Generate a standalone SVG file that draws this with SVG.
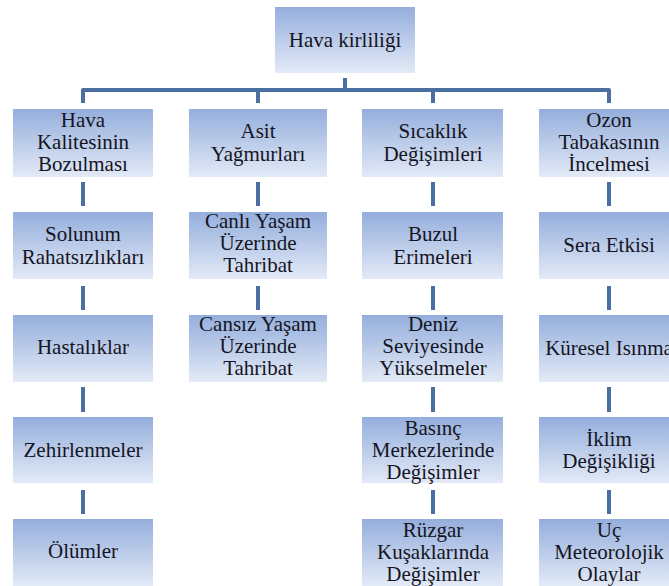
<svg xmlns="http://www.w3.org/2000/svg" width="669" height="586" viewBox="0 0 669 586">
<defs>
<linearGradient id="g" x1="0" y1="0" x2="0" y2="1">
<stop offset="0" stop-color="#94aedc"/>
<stop offset="1" stop-color="#e3eaf7"/>
</linearGradient>
<style>
.box{fill:url(#g)}
text{font-family:"Liberation Serif","DejaVu Serif",serif;font-size:21px;fill:#15151f;text-anchor:middle}
.c{fill:none;stroke:#4a6fa0;stroke-width:4;stroke-linejoin:round}
</style>
</defs>
<rect width="669" height="586" fill="#ffffff"/>
<g id="connectors">
<path class="c" d="M345 78V90M83 103V90H609V103M258 90V103M433 90V103"/>
<path class="c" d="M83 182V206M83 286V310M83 387V412M83 490V514"/>
<path class="c" d="M258 182V206M258 286V310"/>
<path class="c" d="M433 182V206M433 286V310M433 387V412M433 490V514"/>
<path class="c" d="M609 182V206M609 286V310M609 387V412M609 490V514"/>
</g>
<g id="n0"><rect class="box" x="275" y="7" width="140" height="66"/><text x="345" y="47">Hava kirliliği</text></g>
<g id="n1"><rect class="box" x="13" y="109" width="140" height="68"/><text x="83" y="127">Hava</text><text x="83" y="149">Kalitesinin</text><text x="83" y="171">Bozulması</text></g>
<g id="n2"><rect class="box" x="189" y="109" width="138" height="68"/><text x="258" y="138">Asit</text><text x="258" y="161">Yağmurları</text></g>
<g id="n3"><rect class="box" x="362" y="109" width="141" height="68"/><text x="433" y="138">Sıcaklık</text><text x="433" y="161">Değişimleri</text></g>
<g id="n4"><rect class="box" x="539" y="109" width="140" height="68"/><text x="609" y="127">Ozon</text><text x="609" y="149">Tabakasının</text><text x="609" y="171">İncelmesi</text></g>
<g id="n5"><rect class="box" x="13" y="212" width="140" height="67"/><text x="83" y="241">Solunum</text><text x="83" y="264">Rahatsızlıkları</text></g>
<g id="n6"><rect class="box" x="189" y="212" width="138" height="67"/><text x="258" y="228">Canlı Yaşam</text><text x="258" y="250">Üzerinde</text><text x="258" y="272">Tahribat</text></g>
<g id="n7"><rect class="box" x="362" y="212" width="141" height="67"/><text x="433" y="241">Buzul</text><text x="433" y="264">Erimeleri</text></g>
<g id="n8"><rect class="box" x="539" y="212" width="140" height="67"/><text x="609" y="252">Sera Etkisi</text></g>
<g id="n9"><rect class="box" x="13" y="315" width="140" height="67"/><text x="83" y="354">Hastalıklar</text></g>
<g id="n10"><rect class="box" x="189" y="315" width="138" height="67"/><text x="258" y="331">Cansız Yaşam</text><text x="258" y="353">Üzerinde</text><text x="258" y="375">Tahribat</text></g>
<g id="n11"><rect class="box" x="362" y="315" width="141" height="67"/><text x="433" y="331">Deniz</text><text x="433" y="353">Seviyesinde</text><text x="433" y="375">Yükselmeler</text></g>
<g id="n12"><rect class="box" x="539" y="315" width="140" height="67"/><text x="609" y="355">Küresel Isınma</text></g>
<g id="n13"><rect class="box" x="13" y="417" width="140" height="66"/><text x="83" y="457">Zehirlenmeler</text></g>
<g id="n14"><rect class="box" x="362" y="417" width="141" height="66"/><text x="433" y="435">Basınç</text><text x="433" y="457">Merkezlerinde</text><text x="433" y="479">Değişimler</text></g>
<g id="n15"><rect class="box" x="539" y="417" width="140" height="66"/><text x="609" y="446">İklim</text><text x="609" y="468">Değişikliği</text></g>
<g id="n16"><rect class="box" x="13" y="519" width="140" height="67"/><text x="83" y="558">Ölümler</text></g>
<g id="n17"><rect class="box" x="362" y="519" width="141" height="67"/><text x="433" y="537">Rüzgar</text><text x="433" y="559">Kuşaklarında</text><text x="433" y="581">Değişimler</text></g>
<g id="n18"><rect class="box" x="539" y="519" width="140" height="67"/><text x="609" y="537">Uç</text><text x="609" y="559">Meteorolojik</text><text x="609" y="581">Olaylar</text></g>
</svg>
